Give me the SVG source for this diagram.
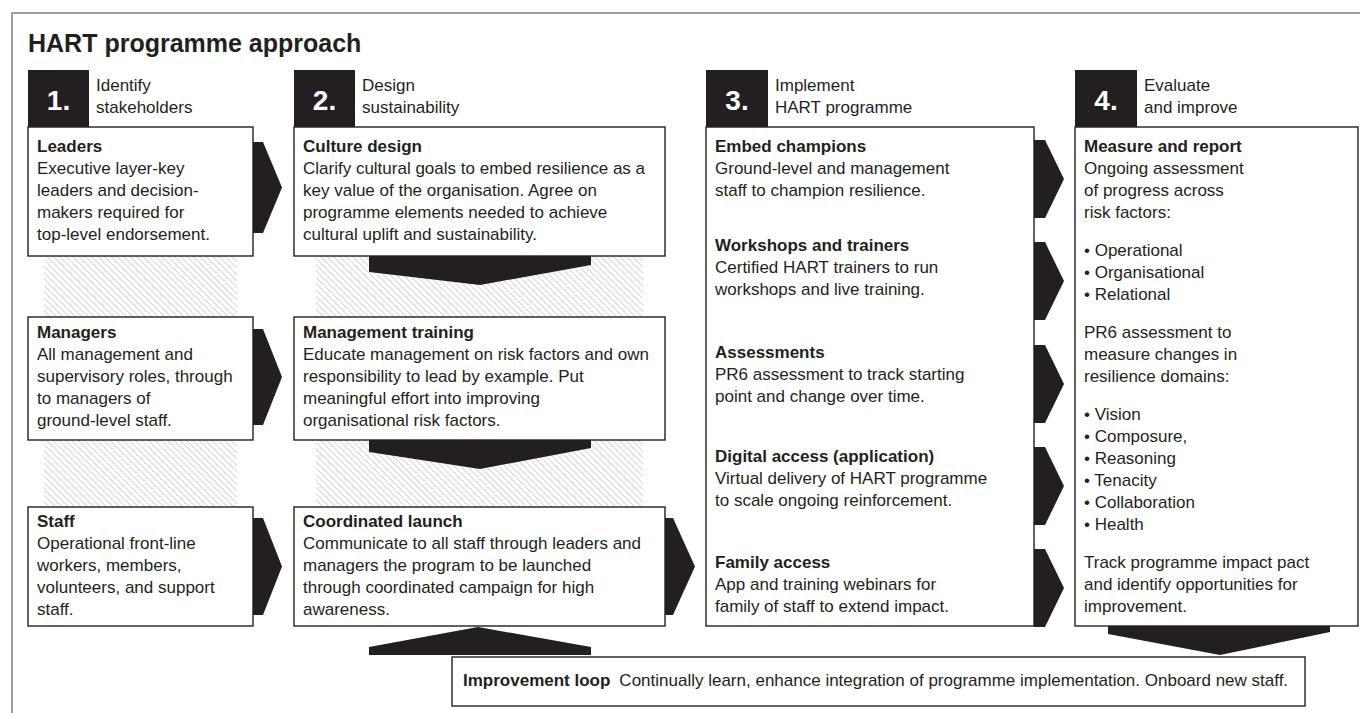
<svg xmlns="http://www.w3.org/2000/svg" width="1360" height="713" viewBox="0 0 1360 713">
<defs>
<style>
.t{font-family:"Liberation Sans",Arial,sans-serif;font-size:17px;fill:#231f20}
.b{font-weight:bold}
.ttl{font-family:"Liberation Sans",Arial,sans-serif;font-size:25px;font-weight:bold;fill:#231f20}
.box{fill:#fff;stroke:#231f20;stroke-width:1.4}
.num{fill:#231f20}
.numt{font-family:"Liberation Sans",Arial,sans-serif;font-weight:bold;font-size:28px;fill:#fff;text-anchor:middle}
.arr{fill:#231f20}
.hatch{fill:url(#hp)}
</style>
<pattern id="hp" patternUnits="userSpaceOnUse" width="4.5" height="4.5" patternTransform="rotate(-45)">
<line x1="0" y1="0" x2="0" y2="4.5" stroke="#b4b4b4" stroke-width="1.1"/>
</pattern>
</defs>
<rect width="1360" height="713" fill="#fff"/>
<rect x="12" y="13" width="1360" height="720" fill="none" stroke="#808080" stroke-width="1.5"/>
<text class="ttl" x="28" y="52">HART programme approach</text>

<g id="hatching">
<rect class="hatch" x="44" y="256" width="193" height="61"/>
<rect class="hatch" x="44" y="440" width="193" height="67"/>
<rect class="hatch" x="316" y="256" width="327" height="61"/>
<rect class="hatch" x="316" y="440" width="327" height="67"/>
</g>

<g id="connectors">
<path class="arr" d="M253,142 H263 L282,187.5 L263,233 H253 Z"/>
<path class="arr" d="M253,329 H263 L282,377 L263,425 H253 Z"/>
<path class="arr" d="M253,518 H263 L282,566.5 L263,615 H253 Z"/>
<path class="arr" d="M369,256 H591 V265 L480,285 L369,272 Z"/>
<path class="arr" d="M369,440 H591 V448 L480,469 L369,452 Z"/>
<path class="arr" d="M665,518 H673 L695,566.5 L673,615 H665 Z"/>
<path class="arr" d="M369,655 H591 V647 L478,627 L369,647 Z"/>
<path class="arr" d="M1034,140 H1045 L1064,179 L1045,218 H1034 Z"/>
<path class="arr" d="M1034,242 H1045 L1064,281 L1045,320 H1034 Z"/>
<path class="arr" d="M1034,345 H1045 L1064,384 L1045,423 H1034 Z"/>
<path class="arr" d="M1034,447 H1045 L1064,486 L1045,525 H1034 Z"/>
<path class="arr" d="M1034,549 H1045 L1064,588 L1045,627 H1034 Z"/>
<path class="arr" d="M1108,626 H1330 V632 L1220,655 L1108,634 Z"/>
</g>

<g id="step1">
<rect class="num" x="28" y="70" width="61" height="57"/>
<text class="numt" x="58.5" y="110">1.</text>
<text class="t" x="96" y="91">Identify</text>
<text class="t" x="96" y="113">stakeholders</text>
</g>
<g id="step2">
<rect class="num" x="294" y="70" width="61" height="57"/>
<text class="numt" x="324.5" y="110">2.</text>
<text class="t" x="362" y="91">Design</text>
<text class="t" x="362" y="113">sustainability</text>
</g>
<g id="step3">
<rect class="num" x="706" y="70" width="62" height="57"/>
<text class="numt" x="737" y="110">3.</text>
<text class="t" x="775" y="91">Implement</text>
<text class="t" x="775" y="113">HART programme</text>
</g>
<g id="step4">
<rect class="num" x="1075" y="70" width="62" height="57"/>
<text class="numt" x="1106" y="110">4.</text>
<text class="t" x="1144" y="91">Evaluate</text>
<text class="t" x="1144" y="113">and improve</text>
</g>

<g id="leaders">
<rect class="box" x="28" y="127" width="225" height="129"/>
<text class="t b" x="37" y="152">Leaders</text>
<text class="t" x="37" y="174">Executive layer-key</text>
<text class="t" x="37" y="196">leaders and decision-</text>
<text class="t" x="37" y="218">makers required for</text>
<text class="t" x="37" y="240">top-level endorsement.</text>
</g>
<g id="managers">
<rect class="box" x="28" y="317" width="225" height="123"/>
<text class="t b" x="37" y="338">Managers</text>
<text class="t" x="37" y="360">All management and</text>
<text class="t" x="37" y="382">supervisory roles, through</text>
<text class="t" x="37" y="404">to managers of</text>
<text class="t" x="37" y="426">ground-level staff.</text>
</g>
<g id="staff">
<rect class="box" x="28" y="507" width="225" height="119"/>
<text class="t b" x="37" y="527">Staff</text>
<text class="t" x="37" y="549">Operational front-line</text>
<text class="t" x="37" y="571">workers, members,</text>
<text class="t" x="37" y="593">volunteers, and support</text>
<text class="t" x="37" y="615">staff.</text>
</g>

<g id="culture-design">
<rect class="box" x="294" y="127" width="371" height="129"/>
<text class="t b" x="303" y="152">Culture design</text>
<text class="t" x="303" y="174">Clarify cultural goals to embed resilience as a</text>
<text class="t" x="303" y="196">key value of the organisation. Agree on</text>
<text class="t" x="303" y="218">programme elements needed to achieve</text>
<text class="t" x="303" y="240">cultural uplift and sustainability.</text>
</g>
<g id="management-training">
<rect class="box" x="294" y="317" width="371" height="123"/>
<text class="t b" x="303" y="338">Management training</text>
<text class="t" x="303" y="360">Educate management on risk factors and own</text>
<text class="t" x="303" y="382">responsibility to lead by example. Put</text>
<text class="t" x="303" y="404">meaningful effort into improving</text>
<text class="t" x="303" y="426">organisational risk factors.</text>
</g>
<g id="coordinated-launch">
<rect class="box" x="294" y="507" width="371" height="119"/>
<text class="t b" x="303" y="527">Coordinated launch</text>
<text class="t" x="303" y="549">Communicate to all staff through leaders and</text>
<text class="t" x="303" y="571">managers the program to be launched</text>
<text class="t" x="303" y="593">through coordinated campaign for high</text>
<text class="t" x="303" y="615">awareness.</text>
</g>

<g id="implement">
<rect class="box" x="706" y="127" width="328" height="499"/>
<text class="t b" x="715" y="152">Embed champions</text>
<text class="t" x="715" y="174">Ground-level and management</text>
<text class="t" x="715" y="196">staff to champion resilience.</text>
<text class="t b" x="715" y="251">Workshops and trainers</text>
<text class="t" x="715" y="273">Certified HART trainers to run</text>
<text class="t" x="715" y="295">workshops and live training.</text>
<text class="t b" x="715" y="358">Assessments</text>
<text class="t" x="715" y="380">PR6 assessment to track starting</text>
<text class="t" x="715" y="402">point and change over time.</text>
<text class="t b" x="715" y="462">Digital access (application)</text>
<text class="t" x="715" y="484">Virtual delivery of HART programme</text>
<text class="t" x="715" y="506">to scale ongoing reinforcement.</text>
<text class="t b" x="715" y="568">Family access</text>
<text class="t" x="715" y="590">App and training webinars for</text>
<text class="t" x="715" y="612">family of staff to extend impact.</text>
</g>

<g id="evaluate">
<rect class="box" x="1075" y="127" width="283" height="499"/>
<text class="t b" x="1084" y="152">Measure and report</text>
<text class="t" x="1084" y="174">Ongoing assessment</text>
<text class="t" x="1084" y="196">of progress across</text>
<text class="t" x="1084" y="218">risk factors:</text>
<text class="t" x="1084" y="256">• Operational</text>
<text class="t" x="1084" y="278">• Organisational</text>
<text class="t" x="1084" y="300">• Relational</text>
<text class="t" x="1084" y="338">PR6 assessment to</text>
<text class="t" x="1084" y="360">measure changes in</text>
<text class="t" x="1084" y="382">resilience domains:</text>
<text class="t" x="1084" y="420">• Vision</text>
<text class="t" x="1084" y="442">• Composure,</text>
<text class="t" x="1084" y="464">• Reasoning</text>
<text class="t" x="1084" y="486">• Tenacity</text>
<text class="t" x="1084" y="508">• Collaboration</text>
<text class="t" x="1084" y="530">• Health</text>
<text class="t" x="1084" y="568">Track programme impact pact</text>
<text class="t" x="1084" y="590">and identify opportunities for</text>
<text class="t" x="1084" y="612">improvement.</text>
</g>

<g id="improvement-loop">
<rect class="box" x="452" y="657" width="853" height="49"/>
<text class="t" x="463" y="686"><tspan class="b">Improvement loop</tspan><tspan dx="9">Continually learn, enhance integration of programme implementation. Onboard new staff.</tspan></text>
</g>
</svg>
